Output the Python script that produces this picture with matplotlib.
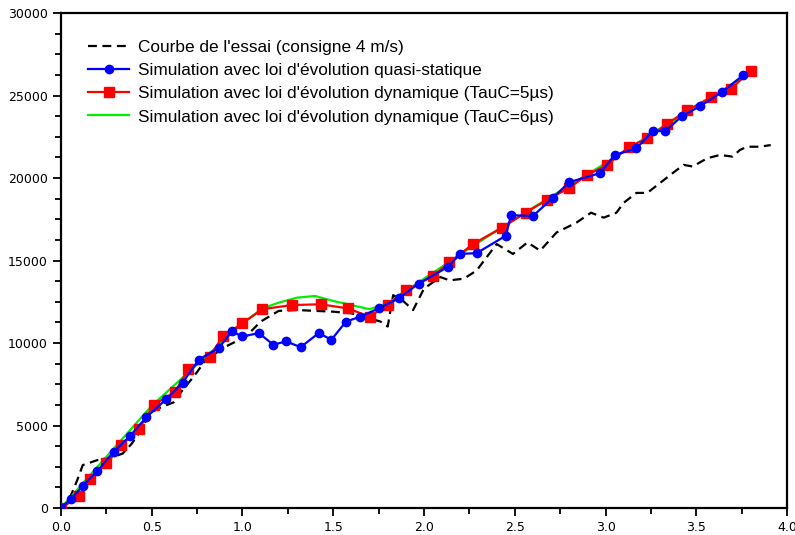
import numpy as np
import matplotlib.pyplot as plt

# courbe de l'essai (noir pointille)
x_essai = [0.0, 0.02, 0.06, 0.09, 0.12, 0.2, 0.29, 0.34, 0.39, 0.44, 0.49, 0.55, 0.62, 0.67,
           0.73, 0.8, 0.91, 1.02, 1.1, 1.2, 1.3, 1.4, 1.5, 1.6, 1.7, 1.76, 1.8, 1.83, 1.88,
           1.94, 2.0, 2.09, 2.14, 2.22, 2.29, 2.4, 2.49, 2.57, 2.64, 2.73, 2.84, 2.92, 2.99,
           3.06, 3.1, 3.17, 3.23, 3.3, 3.37, 3.43, 3.48, 3.56, 3.63, 3.7, 3.74, 3.78, 3.85, 3.91]
y_essai = [0, 0, 900, 1700, 2600, 2900, 3100, 3300, 3900, 4700, 5750, 6100, 6400, 7150,
           7950, 9000, 9800, 10400, 11300, 11950, 12000, 11950, 11900, 11800, 11500, 11300, 11000,
           12900, 12600, 12000, 13300, 14000, 13800, 13900, 14400, 16000, 15400, 16100, 15600,
           16700, 17300, 17900, 17600, 17900, 18500, 19100, 19100, 19700, 20300, 20800, 20700,
           21200, 21400, 21300, 21700, 21900, 21900, 22000]

# simulation quasi-statique (bleu)
x_qs = [0.0, 0.055, 0.12, 0.2, 0.29, 0.38, 0.47, 0.58, 0.67, 0.76, 0.87, 0.94, 1.0, 1.09,
        1.17, 1.24, 1.32, 1.42, 1.49, 1.57, 1.65, 1.75, 1.86, 1.97, 2.13, 2.2, 2.29, 2.45,
        2.48, 2.6, 2.71, 2.8, 2.97, 3.05, 3.17, 3.26, 3.33, 3.42, 3.52, 3.64, 3.76]
y_qs = [0, 550, 1330, 2240, 3400, 4360, 5500, 6600, 7600, 9000, 9700, 10700, 10400, 10600,
        9900, 10100, 9750, 10600, 10200, 11300, 11600, 12100, 12700, 13600, 14600, 15400, 15450,
        16500, 17750, 17700, 18800, 19750, 20300, 21400, 21800, 22850, 22850, 23750, 24350,
        25200, 26250]

# simulation dynamique TauC=5us (rouge)
x_d5 = [0.0, 0.1, 0.16, 0.25, 0.33, 0.43, 0.51, 0.63, 0.7, 0.82, 0.89, 1.0, 1.11, 1.27,
        1.43, 1.58, 1.7, 1.8, 1.9, 2.05, 2.14, 2.27, 2.43, 2.56, 2.68, 2.8, 2.9, 3.01, 3.13,
        3.23, 3.34, 3.45, 3.58, 3.69, 3.8]
y_d5 = [0, 700, 1760, 2700, 3800, 4800, 6250, 7050, 8400, 9150, 10400, 11200, 12050, 12300,
        12350, 12100, 11600, 12300, 13200, 14050, 14900, 16000, 17000, 17900, 18700, 19400,
        20200, 20800, 21900, 22400, 23300, 24100, 24900, 25400, 26500]

# simulation dynamique TauC=6us (vert)
x_d6 = [0.0, 0.5, 1.0, 1.11, 1.2, 1.3, 1.4, 1.5, 1.6, 1.7, 1.8, 2.0, 2.3, 2.6, 3.0, 3.3,
        3.6, 3.78]
y_d6 = [0, 6200, 11200, 12100, 12450, 12750, 12850, 12550, 12300, 12050, 12400, 13900,
        16100, 18200, 20900, 23000, 25000, 26300]

xticks = [0.0, 0.5, 1.0, 1.5, 2.0, 2.5, 3.0, 3.5, 4.0]
yticks = [0, 5000, 10000, 15000, 20000, 25000, 30000]

fig = plt.figure(figsize=(7.95, 5.35), dpi=100)
ax = fig.add_axes([0.0767, 0.0505, 0.9133, 0.925])

l_essai, = ax.plot(x_essai, y_essai, color='black', ls=(0, (4, 2.5)), lw=1.6, zorder=2)
l_d6, = ax.plot(x_d6, y_d6, color='#00ee00', lw=1.6, zorder=3)
l_d5, = ax.plot(x_d5, y_d5, color='red', lw=1.6, marker='s', ms=7, mec='red', zorder=4)
l_qs, = ax.plot(x_qs, y_qs, color='blue', lw=1.6, marker='o', ms=6, mec='blue', zorder=5)

ax.set_xlim(0, 4)
ax.set_ylim(0, 30000)
ax.set_xticks(xticks)
ax.set_xticklabels(['%.1f' % v for v in xticks])
ax.set_yticks(yticks)
ax.set_xticks(np.arange(0, 4.01, 0.25), minor=True)
ax.set_yticks(np.arange(0, 30001, 1250), minor=True)
ax.tick_params(which='major', direction='out', length=6, width=1.3, labelsize=9, colors='black')
ax.tick_params(which='minor', direction='out', length=4, width=1.3)
for s in ax.spines.values():
    s.set_linewidth(1.6)

ax.legend([l_essai, l_qs, l_d5, l_d6],
          ["Courbe de l'essai (consigne 4 m/s)",
           "Simulation avec loi d'évolution quasi-statique",
           "Simulation avec loi d'évolution dynamique (TauC=5µs)",
           "Simulation avec loi d'évolution dynamique (TauC=6µs)"],
          loc='upper left', bbox_to_anchor=(0.016, 0.978), frameon=False,
          handlelength=2.4, handletextpad=0.5, labelspacing=0.48,
          prop={'family': 'Liberation Sans', 'size': 12.4})

fig.savefig('out.png', dpi=100)
